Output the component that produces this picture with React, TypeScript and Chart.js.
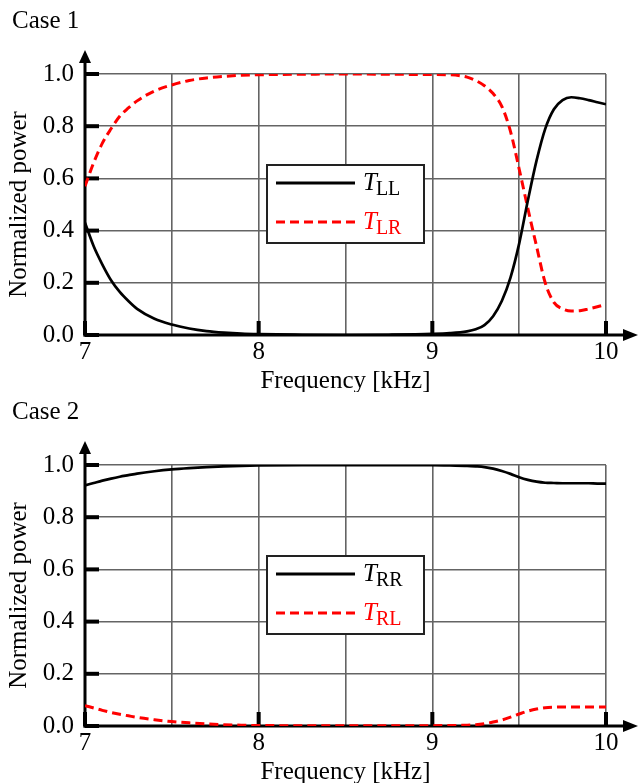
import React, { useEffect, useRef } from 'react';
import { Chart, registerables } from 'chart.js';

Chart.register(...registerables);

// ---- data ----
const freq = [7, 7.05, 7.1, 7.15, 7.2, 7.25, 7.3, 7.4, 7.5, 7.6, 7.7, 7.8, 7.9, 8.0, 8.25, 8.5, 8.75, 9.0, 9.1, 9.2, 9.25, 9.3, 9.35, 9.4, 9.45, 9.5, 9.55, 9.6, 9.65, 9.7, 9.75, 9.8, 9.85, 9.9, 9.95, 10];

const tLL = [0.43, 0.34, 0.27, 0.21, 0.165, 0.13, 0.1, 0.062, 0.04, 0.025, 0.015, 0.009, 0.005, 0.003, 0.001, 0.0, 0.001, 0.004, 0.007, 0.014, 0.022, 0.038, 0.072, 0.13, 0.22, 0.35, 0.515, 0.668, 0.79, 0.865, 0.9, 0.911, 0.907, 0.9, 0.892, 0.884];
const tLR = [0.57, 0.66, 0.735, 0.79, 0.838, 0.87, 0.897, 0.935, 0.958, 0.975, 0.985, 0.991, 0.995, 0.997, 0.999, 1.0, 0.999, 0.998, 0.997, 0.988, 0.975, 0.955, 0.925, 0.876, 0.78, 0.636, 0.485, 0.34, 0.2, 0.125, 0.1, 0.092, 0.093, 0.1, 0.108, 0.117];

const tRR = [0.922, 0.931, 0.94, 0.948, 0.955, 0.961, 0.967, 0.976, 0.983, 0.988, 0.992, 0.995, 0.997, 0.998, 0.999, 0.999, 0.999, 0.999, 0.998, 0.997, 0.995, 0.992, 0.986, 0.977, 0.966, 0.953, 0.943, 0.936, 0.932, 0.931, 0.93, 0.93, 0.93, 0.93, 0.929, 0.929];
const tRL = [0.078, 0.069, 0.06, 0.052, 0.045, 0.039, 0.033, 0.024, 0.017, 0.012, 0.008, 0.005, 0.003, 0.002, 0.001, 0.001, 0.001, 0.001, 0.002, 0.003, 0.005, 0.009, 0.015, 0.023, 0.034, 0.046, 0.057, 0.065, 0.07, 0.072, 0.073, 0.073, 0.073, 0.073, 0.073, 0.073];

const case1Subs = ['LL', 'LR'];
const case2Subs = ['RR', 'RL'];
const caseTitles = ['Case 1', 'Case 2'];
const xTitle = 'Frequency [kHz]';
const yTitle = 'Normalized power';
const yTickValues = [0, 0.2, 0.4, 0.6, 0.8, 1.0];
const xMajorTicks = [7, 8, 9, 10];

const FONT = '"Liberation Serif", "Times New Roman", serif';
const GRID = '#646464';
const RED = '#ff0000';

const decoPlugin = {
  id: 'deco',
  beforeDatasetsDraw(chart: any) {
    const { ctx, chartArea: a, scales } = chart;
    const x = scales.x;
    const y = scales.y;
    ctx.save();
    ctx.fillStyle = '#000';
    ctx.strokeStyle = '#000';
    ctx.lineWidth = 3;
    // y axis with arrow
    const tipY = a.top - 24;
    ctx.beginPath();
    ctx.moveTo(a.left, a.bottom + 1.5);
    ctx.lineTo(a.left, tipY + 10);
    ctx.stroke();
    ctx.beginPath();
    ctx.moveTo(a.left, tipY);
    ctx.lineTo(a.left - 6, tipY + 13);
    ctx.lineTo(a.left + 6, tipY + 13);
    ctx.closePath();
    ctx.fill();
    // x axis with arrow
    const tipX = a.right + 32;
    ctx.beginPath();
    ctx.moveTo(a.left - 1.5, a.bottom);
    ctx.lineTo(tipX - 10, a.bottom);
    ctx.stroke();
    ctx.beginPath();
    ctx.moveTo(tipX, a.bottom);
    ctx.lineTo(tipX - 15, a.bottom - 6);
    ctx.lineTo(tipX - 15, a.bottom + 6);
    ctx.closePath();
    ctx.fill();
    // thick tick marks
    for (const v of yTickValues) {
      const py = y.getPixelForValue(v);
      ctx.fillRect(a.left, py - 2, 14, 4);
    }
    for (const v of xMajorTicks) {
      const px = x.getPixelForValue(v);
      ctx.fillRect(px - 2, a.bottom - 14, 4, 14);
    }
    ctx.restore();
  },
  afterDraw(chart: any, _args: any, opts: any) {
    const { ctx, chartArea: a } = chart;
    const subs: string[] = opts.subs || [];
    const bx = a.left + 182;
    const by = a.top + 91;
    const bw = 157;
    const bh = 78;
    ctx.save();
    ctx.fillStyle = '#fff';
    ctx.fillRect(bx, by, bw, bh);
    ctx.strokeStyle = '#222';
    ctx.lineWidth = 2;
    ctx.strokeRect(bx, by, bw, bh);
    chart.data.datasets.forEach((ds: any, i: number) => {
      const ly = by + 18 + i * 39;
      ctx.beginPath();
      ctx.strokeStyle = ds.borderColor;
      ctx.lineWidth = 3;
      ctx.setLineDash(ds.borderDash || []);
      ctx.moveTo(bx + 9, ly);
      ctx.lineTo(bx + 88, ly);
      ctx.stroke();
      ctx.setLineDash([]);
      ctx.fillStyle = ds.borderColor;
      ctx.textBaseline = 'alphabetic';
      ctx.textAlign = 'left';
      ctx.font = `italic 25px ${FONT}`;
      ctx.fillText('T', bx + 96, ly + 7);
      const tw = ctx.measureText('T').width;
      ctx.font = `20px ${FONT}`;
      ctx.fillText(subs[i] || '', bx + 96 + tw - 1, ly + 12);
    });
    ctx.restore();
  },
};

function Panel({ title, a, b, subs, top }: { title: string; a: number[]; b: number[]; subs: string[]; top: number }) {
  const ref = useRef<HTMLCanvasElement>(null);
  useEffect(() => {
    if (!ref.current) return;
    const font = { family: FONT, size: 25, weight: 'normal' as const, lineHeight: 1 };
    const chart = new Chart(ref.current, {
      type: 'line',
      data: {
        datasets: [
          {
            label: 'T_' + subs[0],
            data: freq.map((f, i) => ({ x: f, y: a[i] })),
            borderColor: '#000',
            borderWidth: 2.7,
            pointRadius: 0,
            cubicInterpolationMode: 'monotone',
            fill: false,
          },
          {
            label: 'T_' + subs[1],
            data: freq.map((f, i) => ({ x: f, y: b[i] })),
            borderColor: RED,
            borderWidth: 3,
            borderDash: [9, 5],
            pointRadius: 0,
            cubicInterpolationMode: 'monotone',
            fill: false,
          },
        ],
      },
      options: {
        animation: false,
        responsive: false,
        devicePixelRatio: 1,
        layout: { padding: { left: 12, right: 33, top: 0, bottom: 0 } },
        plugins: {
          legend: { display: false },
          tooltip: { enabled: false },
          title: {
            display: true,
            text: title,
            align: 'start',
            color: '#000',
            font,
            padding: { top: 9, bottom: 40 },
          },
          deco: { subs },
        } as any,
        scales: {
          x: {
            type: 'linear',
            min: 7,
            max: 10,
            border: { display: false },
            grid: { color: GRID, lineWidth: 1.6, drawTicks: false },
            ticks: {
              stepSize: 0.5,
              autoSkip: false,
              maxRotation: 0,
              padding: 5,
              color: '#000',
              font,
              callback: (v: any) => (Number.isInteger(Number(v)) ? String(v) : ''),
            },
            title: { display: true, text: xTitle, color: '#000', font, padding: { top: 0, bottom: -2 } },
            afterFit: (s: any) => {
              s.height = 57;
            },
          },
          y: {
            type: 'linear',
            min: 0,
            max: 1,
            border: { display: false },
            grid: { color: GRID, lineWidth: 1.6, drawTicks: false },
            ticks: {
              stepSize: 0.2,
              padding: 11,
              color: '#000',
              font,
              callback: (v: any) => Number(v).toFixed(1),
            },
            title: { display: true, text: yTitle, color: '#000', font, padding: { top: -5, bottom: 0 } },
            afterFit: (s: any) => {
              s.width = 73;
            },
          },
        },
      } as any,
      plugins: [decoPlugin],
    });
    return () => chart.destroy();
  }, []);
  return (
    <canvas
      ref={ref}
      width={639}
      height={392}
      style={{ position: 'absolute', left: 0, top, width: 639, height: 392 }}
    />
  );
}

export default function App() {
  return (
    <div style={{ position: 'fixed', left: 0, top: 0, width: 639, height: 784, background: '#fff', overflow: 'hidden' }}>
      <Panel title={caseTitles[0]} a={tLL} b={tLR} subs={case1Subs} top={0} />
      <Panel title={caseTitles[1]} a={tRR} b={tRL} subs={case2Subs} top={391} />
    </div>
  );
}
